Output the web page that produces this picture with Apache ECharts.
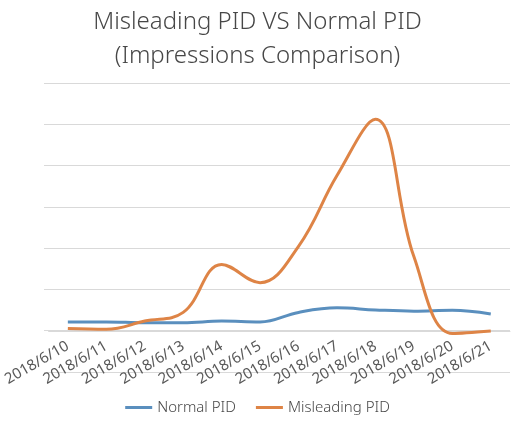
<!DOCTYPE html>
<html>
<head>
<meta charset="utf-8">
<script src="https://cdn.jsdelivr.net/npm/echarts@6/dist/echarts.min.js"></script>
<style>
html, body { margin: 0; padding: 0; background: #fff; }
#chart { width: 515px; height: 430px; }
</style>
</head>
<body>
<div id="chart"></div>
<script>
var dates = ['2018/6/10', '2018/6/11', '2018/6/12', '2018/6/13', '2018/6/14', '2018/6/15',
             '2018/6/16', '2018/6/17', '2018/6/18', '2018/6/19', '2018/6/20', '2018/6/21'];
var normalPid = [22, 22, 20, 20, 24, 22, 45, 56, 51, 48, 50, 41];
var misleadingPid = [6, 4, 24, 45, 161, 117, 205, 376, 512, 180, -6, 0];

var fontName = '"Noto Sans", sans-serif';
var textColor = '#595959';
var gridColor = '#d9d9d9';

var myChart = echarts.init(document.getElementById('chart'));
var option = {
    backgroundColor: '#fff',
    animation: false,
    title: {
        text: 'Misleading PID VS Normal PID\n(Impressions Comparison)',
        left: 'center',
        top: 0,
        textStyle: {
            fontFamily: fontName,
            fontSize: 24,
            fontWeight: 300,
            lineHeight: 34,
            color: '#474747'
        }
    },
    legend: {
        data: ['Normal PID', 'Misleading PID'],
        bottom: 10,
        icon: 'rect',
        itemWidth: 27,
        itemHeight: 3,
        itemGap: 20,
        textStyle: { fontFamily: fontName, fontSize: 15, fontWeight: 300, color: '#474747' }
    },
    // grid 0 holds the lines, its x axis sits on zero; grid 1 only draws the split lines (incl. the one below zero)
    grid: [
        { left: 44, right: 5, top: 83, bottom: 99, containLabel: false },
        { left: 44, right: 5, top: 83, bottom: 58, containLabel: false }
    ],
    xAxis: [
        {
            type: 'category',
            gridIndex: 0,
            data: dates,
            boundaryGap: true,
            axisLine: { lineStyle: { color: gridColor } },
            axisTick: { show: false },
            axisLabel: {
                rotate: 30,
                interval: 0,
                margin: 14,
                fontFamily: fontName,
                fontSize: 15,
                color: textColor
            }
        },
        {
            type: 'category',
            gridIndex: 1,
            data: dates,
            show: false
        }
    ],
    yAxis: [
        {
            type: 'value',
            gridIndex: 0,
            min: 0,
            max: 600,
            interval: 100,
            show: false,
            splitLine: { show: false }
        },
        {
            type: 'value',
            gridIndex: 1,
            min: -100,
            max: 600,
            interval: 100,
            axisLine: { show: false },
            axisTick: { show: false },
            axisLabel: { show: false },
            splitLine: { lineStyle: { color: gridColor } }
        }
    ],
    series: [
        {
            name: 'Normal PID',
            type: 'line',
            xAxisIndex: 0,
            yAxisIndex: 0,
            smooth: 0.4,
            clip: false,
            symbol: 'none',
            color: '#5a8fbe',
            lineStyle: { width: 3 },
            z: 3,
            data: normalPid
        },
        {
            name: 'Misleading PID',
            type: 'line',
            xAxisIndex: 0,
            yAxisIndex: 0,
            smooth: 0.4,
            clip: false,
            symbol: 'none',
            color: '#de8446',
            lineStyle: { width: 3 },
            z: 3,
            data: misleadingPid
        }
    ]
};
myChart.setOption(option);
</script>
</body>
</html>
